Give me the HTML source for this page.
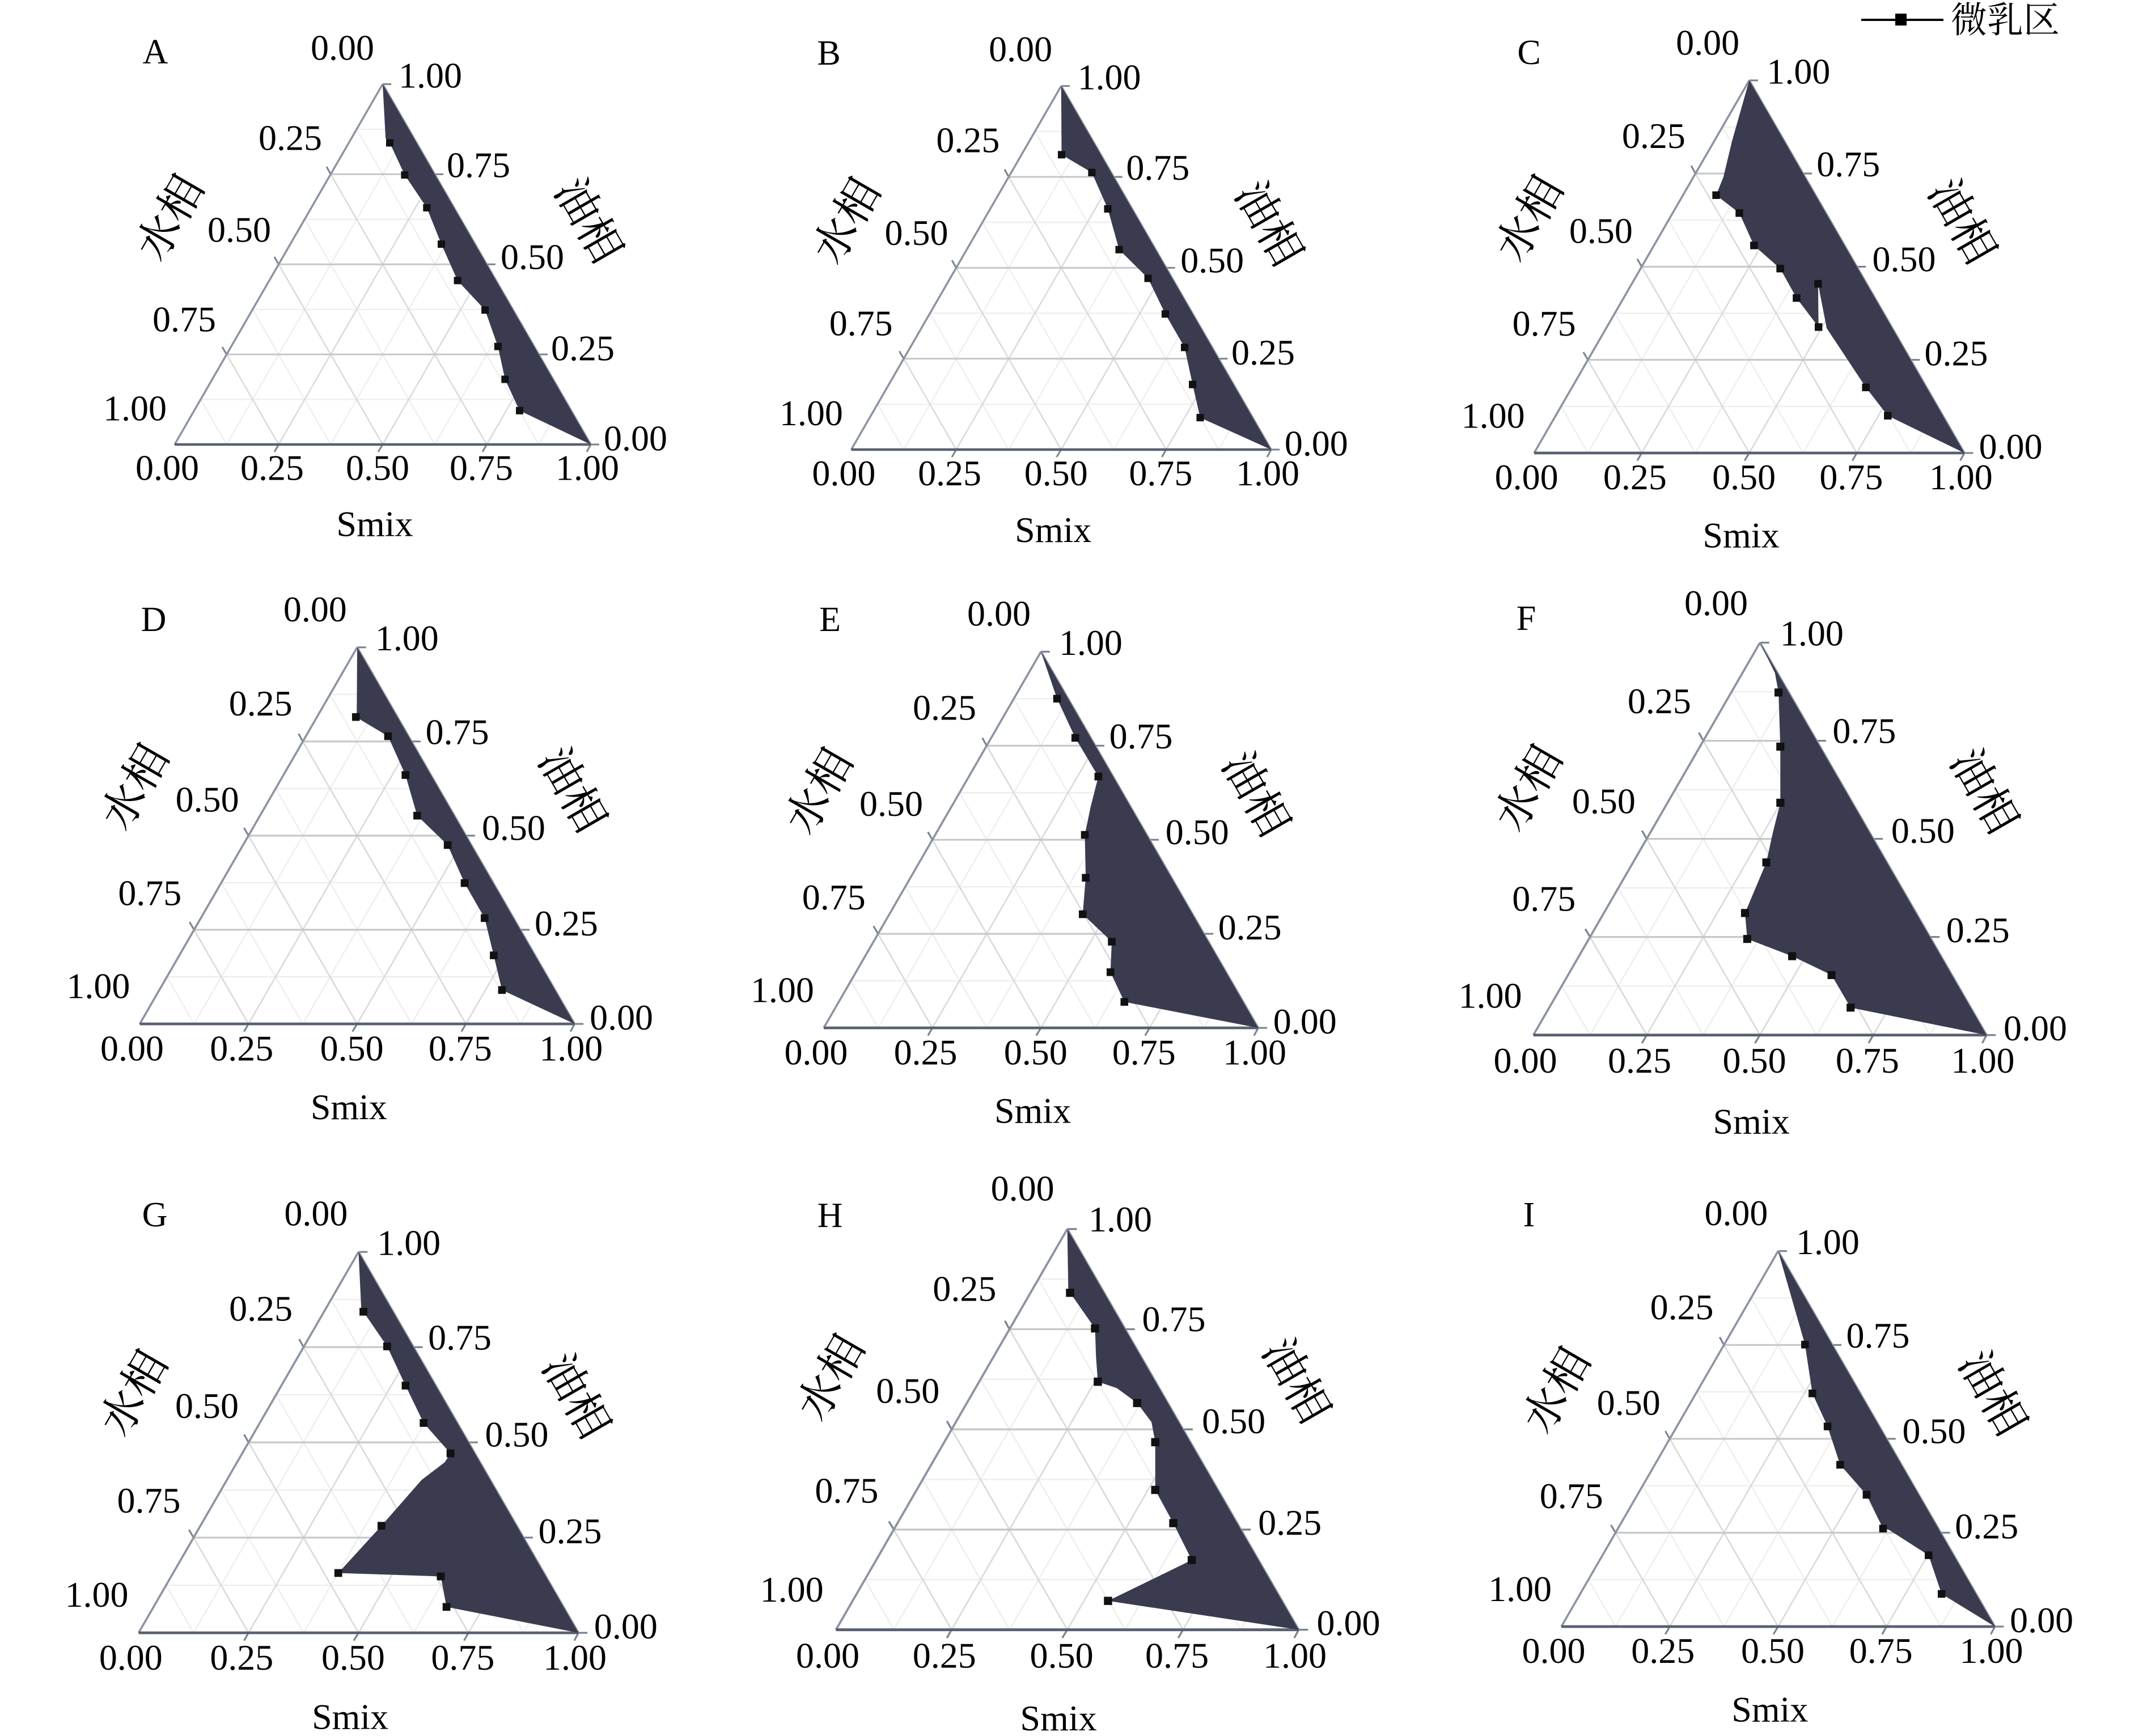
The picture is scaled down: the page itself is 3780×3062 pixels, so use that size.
<!DOCTYPE html>
<html>
<head>
<meta charset="utf-8">
<style>
html,body{margin:0;padding:0;background:#fff;}
svg{display:block;}
text{font-family:"Liberation Serif","Noto Serif CJK SC",serif;fill:#000;}
.cjk{font-family:"Liberation Serif","Noto Serif CJK SC","Noto Sans CJK SC",serif;}
</style>
</head>
<body>
<svg xmlns="http://www.w3.org/2000/svg" xmlns:xlink="http://www.w3.org/1999/xlink" width="3780" height="3062" viewBox="0 0 3780 3062">
<rect x="0" y="0" width="3780" height="3062" fill="#fff"/>
<defs>
  <rect id="m" x="-6.5" y="-6.5" width="13" height="13" fill="#111"/>
  <g id="base" fill="none">
    <g stroke="#ececec" stroke-width="2">
      <line x1="45.9" y1="-79.45" x2="688.1" y2="-79.45"/>
      <line x1="137.6" y1="-238.35" x2="596.4" y2="-238.35"/>
      <line x1="229.4" y1="-397.25" x2="504.6" y2="-397.25"/>
      <line x1="321.1" y1="-556.15" x2="412.9" y2="-556.15"/>
      <line x1="91.75" y1="0" x2="412.9" y2="-556.15"/>
      <line x1="275.25" y1="0" x2="504.6" y2="-397.25"/>
      <line x1="458.75" y1="0" x2="596.4" y2="-238.35"/>
      <line x1="642.25" y1="0" x2="688.1" y2="-79.45"/>
      <line x1="91.75" y1="0" x2="45.9" y2="-79.45"/>
      <line x1="275.25" y1="0" x2="137.6" y2="-238.35"/>
      <line x1="458.75" y1="0" x2="229.4" y2="-397.25"/>
      <line x1="642.25" y1="0" x2="321.1" y2="-556.15"/>
    </g>
    <g stroke="#dadada" stroke-width="2.5">
      <line x1="183.5" y1="0" x2="458.75" y2="-476.7"/>
      <line x1="367" y1="0" x2="550.5" y2="-317.8"/>
      <line x1="550.5" y1="0" x2="642.25" y2="-158.9"/>
      <line x1="183.5" y1="0" x2="91.75" y2="-158.9"/>
      <line x1="367" y1="0" x2="183.5" y2="-317.8"/>
      <line x1="550.5" y1="0" x2="275.25" y2="-476.7"/>
    </g>
    <g stroke="#c4c8c8" stroke-width="3">
      <line x1="91.75" y1="-158.9" x2="642.25" y2="-158.9"/>
      <line x1="183.5" y1="-317.8" x2="550.5" y2="-317.8"/>
      <line x1="275.25" y1="-476.7" x2="458.75" y2="-476.7"/>
    </g>
    <g stroke="#7a8292" stroke-width="3">
      <line x1="642.25" y1="-158.9" x2="658" y2="-158.9"/>
      <line x1="550.5" y1="-317.8" x2="566" y2="-317.8"/>
      <line x1="458.75" y1="-476.7" x2="474" y2="-476.7"/>
      <line x1="367" y1="-635.6" x2="382" y2="-635.6"/>
      <line x1="734" y1="0" x2="749" y2="0"/>
      <line x1="91.75" y1="-158.9" x2="84" y2="-172"/>
      <line x1="183.5" y1="-317.8" x2="176" y2="-331"/>
      <line x1="275.25" y1="-476.7" x2="268" y2="-490"/>
      <line x1="183.5" y1="0" x2="176" y2="13"/>
      <line x1="367" y1="0" x2="359" y2="13"/>
      <line x1="550.5" y1="0" x2="543" y2="13"/>
      <line x1="734" y1="0" x2="727" y2="13"/>
    </g>
    <path d="M0,0 L367,-635.6" stroke="#8c94a2" stroke-width="3.5"/>
    <path d="M367,-635.6 L734,0" stroke="#8c94a2" stroke-width="3.5"/>
    <path d="M0,0 H734" stroke="#596070" stroke-width="4.5"/>
  </g>
  <g id="lbl" text-anchor="middle" dominant-baseline="central">
    <text x="296" y="-700">0.00</text>
    <text x="451" y="-651">1.00</text>
    <text x="204" y="-541">0.25</text>
    <text x="114" y="-379">0.50</text>
    <text x="17" y="-221">0.75</text>
    <text x="-70" y="-64">1.00</text>
    <text x="536" y="-493">0.75</text>
    <text x="631" y="-331">0.50</text>
    <text x="720" y="-170">0.25</text>
    <text x="813" y="-11">0.00</text>
    <text x="-13" y="41">0.00</text>
    <text x="172" y="41">0.25</text>
    <text x="358" y="41">0.50</text>
    <text x="541" y="41">0.75</text>
    <text x="728" y="41">1.00</text>
    <text x="353" y="140">Smix</text>
    <text class="cjk" style="font-size:1.22em" transform="translate(-8,-400) rotate(-60)">水相</text>
    <text class="cjk" style="font-size:1.22em" transform="translate(730,-395) rotate(60)">油相</text>
  </g>
</defs>

<!-- Legend -->
<line x1="3283" y1="35" x2="3428" y2="35" stroke="#000" stroke-width="4"/>
<rect x="3343" y="24" width="20" height="21" fill="#000"/>
<text class="cjk" x="3441" y="36" font-size="64" dominant-baseline="central">微乳区</text>

<!-- Panel letters -->
<g font-size="62" text-anchor="middle" dominant-baseline="central">
  <text x="274" y="92">A</text>
  <text x="1462" y="94">B</text>
  <text x="2697" y="93">C</text>
  <text x="271" y="1093">D</text>
  <text x="1464" y="1093">E</text>
  <text x="2692" y="1091">F</text>
  <text x="273" y="2143">G</text>
  <text x="1464" y="2144">H</text>
  <text x="2697" y="2143">I</text>
</g>

<!-- Panel A -->
<g transform="translate(308,784)">
  <use href="#base"/>
  <polygon fill="#3a3b4e" points="367,-635.6 372.1,-540.3 379.5,-532 405.9,-475.4 444.8,-417.6 470.5,-353.4 499.1,-289.2 547.6,-237.1 570.3,-172.9 582.8,-115 608.5,-59.7 734,0"/>
  <use href="#m" x="379.5" y="-532"/><use href="#m" x="405.9" y="-475.4"/><use href="#m" x="444.8" y="-417.6"/><use href="#m" x="470.5" y="-353.4"/><use href="#m" x="499.1" y="-289.2"/><use href="#m" x="547.6" y="-237.1"/><use href="#m" x="570.3" y="-172.9"/><use href="#m" x="582.8" y="-115"/><use href="#m" x="608.5" y="-59.7"/>
  <use href="#lbl" font-size="64"/>
</g>

<!-- Panel B -->
<g transform="translate(1501.5,793) scale(1.009)">
  <use href="#base"/>
  <polygon fill="#3a3b4e" points="367,-635.6 367.7,-515.5 420.6,-484.3 448.5,-420.8 468.3,-349.6 518.9,-299.4 549,-237.1 582.8,-178.6 596.7,-113.8 610,-55.9 734,0"/>
  <use href="#m" x="367.7" y="-515.5"/><use href="#m" x="420.6" y="-484.3"/><use href="#m" x="448.5" y="-420.8"/><use href="#m" x="468.3" y="-349.6"/><use href="#m" x="518.9" y="-299.4"/><use href="#m" x="549" y="-237.1"/><use href="#m" x="582.8" y="-178.6"/><use href="#m" x="596.7" y="-113.8"/><use href="#m" x="610" y="-55.9"/>
  <use href="#lbl" font-size="63.4"/>
</g>

<!-- Panel C -->
<g transform="translate(2706,799) scale(1.034)">
  <use href="#base"/>
  <polygon fill="#3a3b4e" points="367,-635.6 337.6,-532 323,-471 310.5,-439.8 350.1,-409.3 375.1,-354 419.8,-314.6 447.7,-264.4 485.2,-214.8 484.4,-288.6 499.1,-212.9 565.9,-111.9 603.3,-63.6 734,0"/>
  <use href="#m" x="310.5" y="-439.8"/><use href="#m" x="350.1" y="-409.3"/><use href="#m" x="375.1" y="-354"/><use href="#m" x="419.8" y="-314.6"/><use href="#m" x="447.7" y="-264.4"/><use href="#m" x="485.2" y="-214.8"/><use href="#m" x="484.4" y="-288.6"/><use href="#m" x="565.9" y="-111.9"/><use href="#m" x="603.3" y="-63.6"/>
  <use href="#lbl" font-size="61.9"/>
</g>

<!-- Panel D -->
<g transform="translate(246.5,1806) scale(1.045)">
  <use href="#base"/>
  <polygon fill="#3a3b4e" points="367,-635.6 366.3,-523.7 364.8,-518 419.1,-485.6 448.5,-420.1 468.3,-351.5 519.7,-301.9 548.3,-237.7 582.1,-178.6 597.5,-115.7 611.4,-57.2 734,0"/>
  <use href="#m" x="364.8" y="-518"/><use href="#m" x="419.1" y="-485.6"/><use href="#m" x="448.5" y="-420.1"/><use href="#m" x="468.3" y="-351.5"/><use href="#m" x="519.7" y="-301.9"/><use href="#m" x="548.3" y="-237.7"/><use href="#m" x="582.1" y="-178.6"/><use href="#m" x="597.5" y="-115.7"/><use href="#m" x="611.4" y="-57.2"/>
  <use href="#lbl" font-size="61.2"/>
</g>

<!-- Panel E -->
<g transform="translate(1453,1813) scale(1.044)">
  <use href="#base"/>
  <polygon fill="#3a3b4e" points="367,-635.6 394.2,-556.2 425,-490 463.9,-424.6 450.7,-372.5 441.1,-326.1 442.6,-253.6 437.5,-192 486.6,-145.6 484.4,-94.1 507.9,-43.9 734,0"/>
  <use href="#m" x="394.2" y="-556.2"/><use href="#m" x="425" y="-490"/><use href="#m" x="463.9" y="-424.6"/><use href="#m" x="441.1" y="-326.1"/><use href="#m" x="442.6" y="-253.6"/><use href="#m" x="437.5" y="-192"/><use href="#m" x="486.6" y="-145.6"/><use href="#m" x="484.4" y="-94.1"/><use href="#m" x="507.9" y="-43.9"/>
  <use href="#lbl" font-size="61.3"/>
</g>

<!-- Panel F -->
<g transform="translate(2704.7,1825.7) scale(1.089)">
  <use href="#base"/>
  <polygon fill="#3a3b4e" points="367,-635.6 391.2,-586.7 397.1,-554.9 400,-467.2 400,-376.3 387.6,-326.7 377.3,-279.7 342.8,-197.7 346.4,-155.7 419.1,-127.8 483,-97.2 513.8,-44.5 734,0"/>
  <use href="#m" x="397.1" y="-554.9"/><use href="#m" x="400" y="-467.2"/><use href="#m" x="400" y="-376.3"/><use href="#m" x="377.3" y="-279.7"/><use href="#m" x="342.8" y="-197.7"/><use href="#m" x="346.4" y="-155.7"/><use href="#m" x="419.1" y="-127.8"/><use href="#m" x="483" y="-97.2"/><use href="#m" x="513.8" y="-44.5"/>
  <use href="#lbl" font-size="58.8"/>
</g>

<!-- Panel G -->
<g transform="translate(244.5,2880) scale(1.057)">
  <use href="#base"/>
  <polygon fill="#3a3b4e" points="367,-635.6 371.4,-543.4 375.1,-535.8 414.7,-478 445.5,-412.5 475.6,-350.2 520.4,-299.4 510.9,-284.7 472,-254.9 405.2,-178.6 333.2,-99.8 504.3,-94.1 513.8,-43.2 734,0"/>
  <use href="#m" x="375.1" y="-535.8"/><use href="#m" x="414.7" y="-478"/><use href="#m" x="445.5" y="-412.5"/><use href="#m" x="475.6" y="-350.2"/><use href="#m" x="520.4" y="-299.4"/><use href="#m" x="405.2" y="-178.6"/><use href="#m" x="333.2" y="-99.8"/><use href="#m" x="504.3" y="-94.1"/><use href="#m" x="513.8" y="-43.2"/>
  <use href="#lbl" font-size="60.5"/>
</g>

<!-- Panel H -->
<g transform="translate(1474.5,2874.6) scale(1.112)">
  <use href="#base"/>
  <polygon fill="#3a3b4e" points="367,-635.6 368.5,-542.2 371.4,-534.5 411,-478 412.5,-434.1 415.4,-393.4 445.5,-383.3 477.8,-359.7 500.6,-329.2 506.5,-297.5 506.5,-221.8 535.1,-169.1 564.4,-110.6 431.6,-45.8 734,0"/>
  <use href="#m" x="371.4" y="-534.5"/><use href="#m" x="411" y="-478"/><use href="#m" x="415.4" y="-393.4"/><use href="#m" x="477.8" y="-359.7"/><use href="#m" x="506.5" y="-297.5"/><use href="#m" x="506.5" y="-221.8"/><use href="#m" x="535.1" y="-169.1"/><use href="#m" x="564.4" y="-110.6"/><use href="#m" x="431.6" y="-45.8"/>
  <use href="#lbl" font-size="57.6"/>
</g>

<!-- Panel I -->
<g transform="translate(2754,2869) scale(1.042)">
  <use href="#base"/>
  <polygon fill="#3a3b4e" points="367,-635.6 412.5,-477.3 425,-394.7 450.7,-338.8 472,-273.9 516.7,-223.1 544.6,-165.9 554.2,-164 621.7,-120.8 643.7,-55.3 734,0"/>
  <use href="#m" x="412.5" y="-477.3"/><use href="#m" x="425" y="-394.7"/><use href="#m" x="450.7" y="-338.8"/><use href="#m" x="472" y="-273.9"/><use href="#m" x="516.7" y="-223.1"/><use href="#m" x="544.6" y="-165.9"/><use href="#m" x="621.7" y="-120.8"/><use href="#m" x="643.7" y="-55.3"/>
  <use href="#lbl" font-size="61.4"/>
</g>
</svg>
</body>
</html>
